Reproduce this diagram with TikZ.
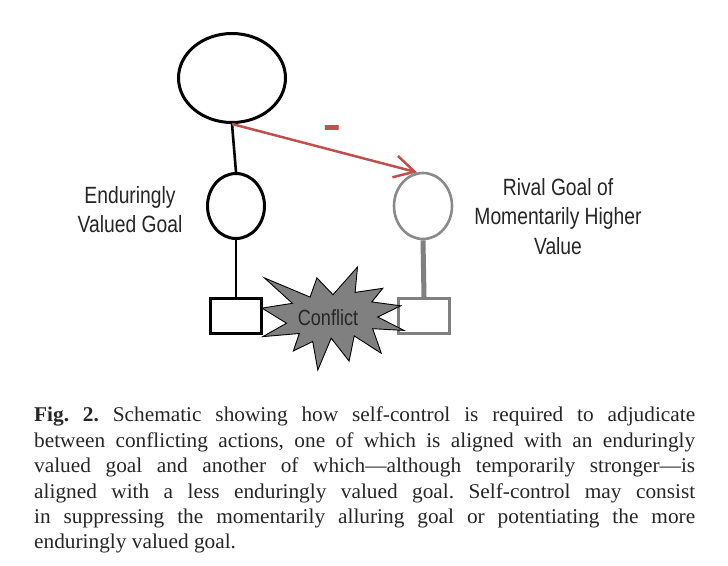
\documentclass[tikz,border=0pt]{standalone}
\usepackage{fontspec}
\usepackage{graphicx}
\setmainfont{Liberation Serif}
\newfontfamily\capfont[FakeStretch=1.015]{Liberation Serif}
\newfontfamily\narrowsans[FakeStretch=0.82]{Liberation Sans}
\newfontfamily\plainsans{Liberation Sans}
\usetikzlibrary{arrows.meta,shapes.geometric}
\definecolor{arrowred}{RGB}{192,80,77}
\definecolor{rivalgray}{RGB}{138,138,138}
\definecolor{burstgray}{RGB}{128,128,128}
\begin{document}
\begin{tikzpicture}[x=1pt,y=-1pt,
  goal/.style={ellipse, draw=black, line width=3pt, inner sep=0pt, fill=white},
  rivalgoal/.style={ellipse, draw=rivalgray, line width=2.6pt, inner sep=0pt, fill=white},
  actbox/.style={rectangle, draw=black, line width=3pt, inner sep=0pt, minimum width=51pt, minimum height=35pt},
  rivalbox/.style={rectangle, draw=burstgray, line width=3pt, inner sep=0pt, minimum width=51pt, minimum height=35pt},
  blackline/.style={draw=black, line width=2.6pt},
  graylink/.style={draw=burstgray, line width=5pt},
  redarrow/.style={draw=arrowred, line width=2.5pt, -{Straight Barb[length=20pt,width=22pt]}},
  lbl/.style={font=\narrowsans\fontsize{23.5}{29.5}\selectfont, align=center, inner sep=0pt, text=black!85},
  burst/.style={fill=burstgray, draw=black, line width=0.9pt, line join=miter},
  captionstyle/.style={font=\capfont\frenchspacing\fontsize{21}{25.4}\selectfont, align=left, inner sep=0pt, text=black!85}
]
\useasboundingbox (0,0) rectangle (728,565);
\fill[white] (0,0) rectangle (728,565);

% goals
\node[goal, minimum width=107pt, minimum height=89pt] (top) at (232,78) {};
\node[goal, minimum width=57pt, minimum height=65pt] (mid) at (236,206) {};
\node[rivalgoal, minimum width=58pt, minimum height=66pt] (rival) at (423,206) {};

% action boxes
\node[actbox] (act) at (236,316) {};
\node[rivalbox] (ract) at (424,316) {};

% connectors
\draw[blackline] (top.south) -- (mid.north);
\draw[blackline] (mid.south) -- (act.north);
\draw[graylink] (rival.south) -- (ract.north);
\draw[redarrow] (top.south) -- (rival.100);
\node[text=arrowred, font=\plainsans\bfseries\fontsize{28}{28}\selectfont, inner sep=0pt] (minus) at (332,133) {\scalebox{1}[1.8]{–}};

% conflict burst
\draw[burst] (333.0,294.7) -- (357.5,267) -- (355.1,292.4) -- (382.8,288.3) -- (371.8,301.9)
  -- (400.7,305.8) -- (377.7,317.0) -- (404,330.4) -- (372.7,328.7) -- (381.3,353.3)
  -- (354.2,335.9) -- (349.1,361.1) -- (331.2,338.2) -- (317.8,370) -- (312.7,341.5)
  -- (293.3,351.0) -- (299.3,333.5) -- (262.9,336.6) -- (286.5,323.2) -- (262,308.1)
  -- (292.4,303.3) -- (264.4,277.9) -- (310.1,297.1) -- (316.9,277.9) -- cycle;
\node[font=\narrowsans\fontsize{22}{22}\selectfont, inner sep=0pt, text=black!85] (conflict) at (328,318) {Conflict};

% labels
\node[lbl, anchor=north] (endur) at (130,186) {Enduringly\\Valued Goal};
\node[lbl, anchor=north] (rivallbl) at (558,178) {Rival Goal of\\Momentarily Higher\\Value};

% caption
\node[captionstyle, anchor=north west] (caption) at (34,407) {%
\makebox[661pt][s]{\textbf{Fig. 2.} Schematic showing how self-control is required to adjudicate}\\
\makebox[661pt][s]{between conflicting actions, one of which is aligned with an enduringly}\\
\makebox[661pt][s]{valued goal and another of which—although temporarily stronger—is}\\
\makebox[661pt][s]{aligned with a less enduringly valued goal. Self-control may consist}\\
\makebox[661pt][s]{in suppressing the momentarily alluring goal or potentiating the more}\\
enduringly valued goal.};
\end{tikzpicture}
\end{document}
